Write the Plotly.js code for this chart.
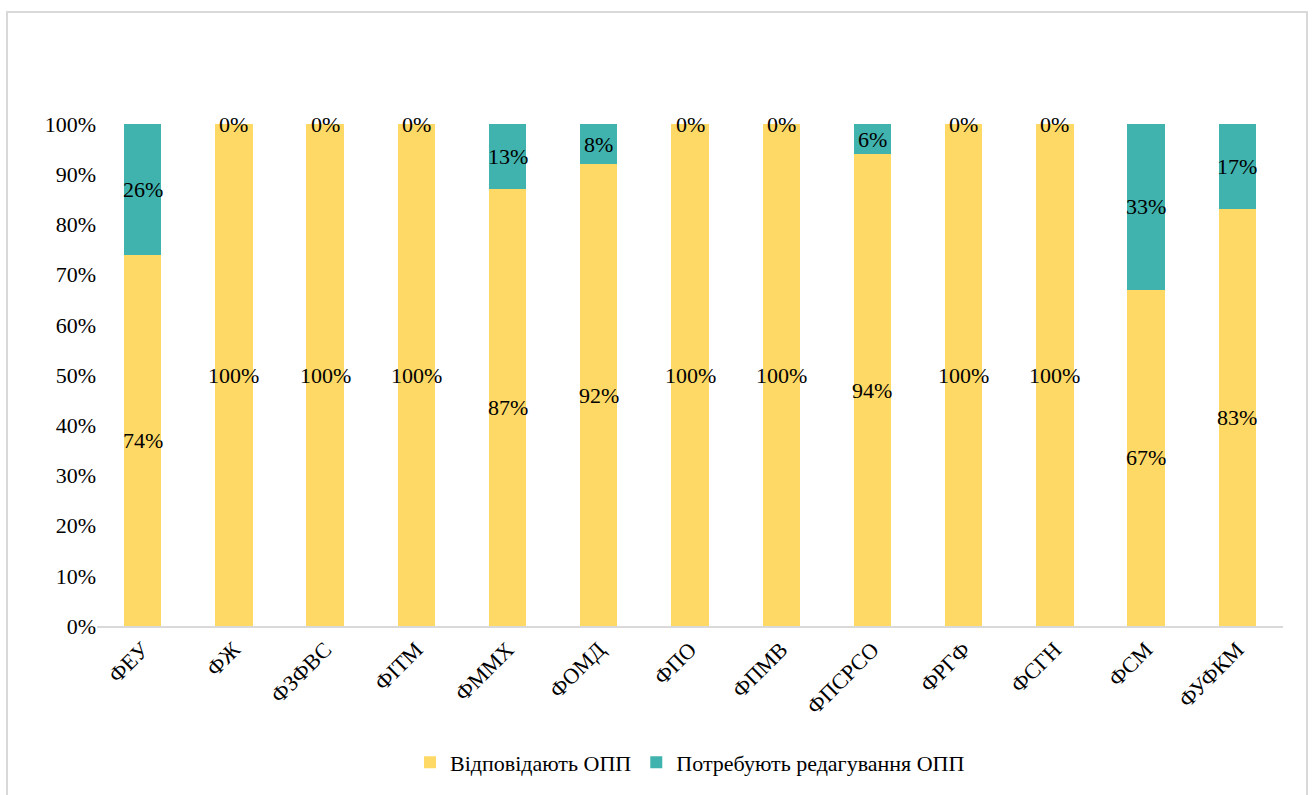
<!DOCTYPE html>
<html>
<head>
<meta charset="utf-8">
<script src="https://cdn.plot.ly/plotly-3.0.1.min.js"></script>
<style>
html,body{margin:0;padding:0;background:#fff;}
svg text{font-family:"Liberation Serif",serif !important;}
#frame{position:absolute;left:6px;top:11px;width:1302px;height:800px;border:2px solid #d9d9d9;box-sizing:border-box;}
#chart{position:absolute;left:0;top:0;width:1316px;height:795px;}
</style>
</head>
<body>
<div id="frame"></div>
<div id="chart"></div>
<script>
const categories = ["ФЕУ","ФЖ","ФЗФВС","ФІТМ","ФММХ","ФОМД","ФПО","ФПМВ","ФПСРСО","ФРГФ","ФСГН","ФСМ","ФУФКМ"];
const meets = [74,100,100,100,87,92,100,100,94,100,100,67,83];
const needsEdit = [26,0,0,0,13,8,0,0,6,0,0,33,17];
const seriesNames = ["Відповідають ОПП","Потребують редагування ОПП"];
const yTickVals = [0,10,20,30,40,50,60,70,80,90,100];
const yTickText = yTickVals.map(v => v + "%");

const serifFamily = "Liberation Serif";
const fontSize = 22;

const traces = [
  {type:"bar", name:seriesNames[0], x:categories, y:meets, marker:{color:"#FFD966"}, hoverinfo:"x+y"},
  {type:"bar", name:seriesNames[1], x:categories, y:needsEdit, marker:{color:"#41B3AE"}, hoverinfo:"x+y"}
];

const annotations = [];
categories.forEach((c,i) => {
  annotations.push({x:c, y:meets[i]/2, xref:"x", yref:"y", text:meets[i]+"%", showarrow:false, font:{family:serifFamily,size:fontSize,color:"black"}});
  annotations.push({x:c, y:meets[i]+needsEdit[i]/2, xref:"x", yref:"y", text:needsEdit[i]+"%", showarrow:false, font:{family:serifFamily,size:fontSize,color:"black"}});
});

const layout = {
  width:1316, height:795,
  margin:{l:97, r:33, t:124, b:165},
  paper_bgcolor:"rgba(0,0,0,0)", plot_bgcolor:"rgba(0,0,0,0)",
  barmode:"stack", bargap:0.59,
  font:{family:serifFamily, size:fontSize, color:"black"},
  showlegend:true,
  legend:{orientation:"h", x:0.5, xanchor:"center", y:-0.23, yanchor:"top", font:{family:serifFamily,size:fontSize,color:"black"}, traceorder:"normal"},
  xaxis:{type:"category", tickangle:-45, showline:true, linecolor:"#d9d9d9", linewidth:2, ticks:"", showgrid:false, tickfont:{family:serifFamily,size:fontSize,color:"black"}, fixedrange:true},
  yaxis:{range:[0,100], tickvals:yTickVals, ticktext:yTickText, showgrid:false, zeroline:false, showline:false, ticks:"", ticklen:0, tickfont:{family:serifFamily,size:fontSize,color:"black"}, fixedrange:true},
  annotations:annotations
};

Plotly.newPlot("chart", traces, layout, {displayModeBar:false, staticPlot:true});
</script>
</body>
</html>
